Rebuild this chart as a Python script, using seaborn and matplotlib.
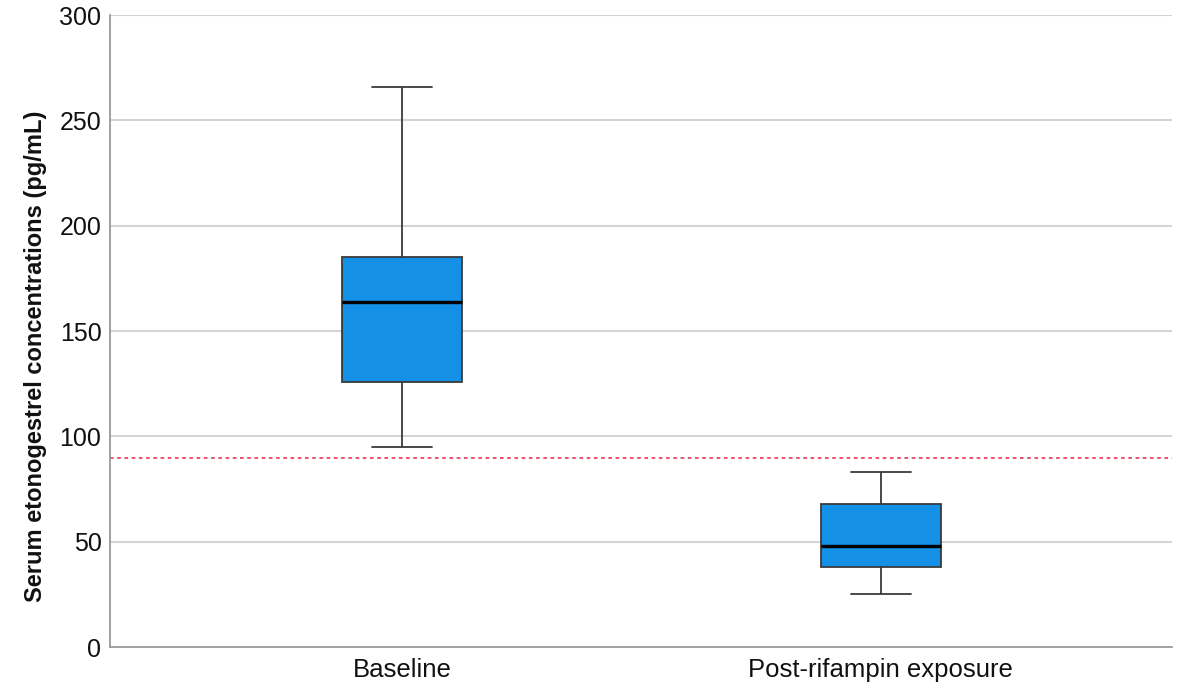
import matplotlib
matplotlib.use("Agg")
import matplotlib.pyplot as plt
import seaborn as sns
import pandas as pd

categories = ["Baseline", "Post-rifampin exposure"]
# five-number summaries: min, Q1, median, Q3, max
baseline_vals = [95, 126, 164, 185, 266]
post_vals = [25, 38, 48, 68, 83]
threshold = 90
yticks = [0, 50, 100, 150, 200, 250, 300]

df = pd.DataFrame({
    "group": [categories[0]] * len(baseline_vals) + [categories[1]] * len(post_vals),
    "value": baseline_vals + post_vals,
})

sns.set_style("white")
plt.rcParams["font.family"] = ["Liberation Sans", "DejaVu Sans"]
plt.rcParams["text.color"] = "#111111"
plt.rcParams["xtick.color"] = "#111111"
plt.rcParams["ytick.color"] = "#111111"
plt.rcParams["axes.labelcolor"] = "#111111"

fig = plt.figure(figsize=(11.81, 6.87), dpi=100)
ax = fig.add_axes([0.093, 0.058, 0.899, 0.920])

for y in yticks[1:]:
    ax.axhline(y, color="#d4d4d4", lw=1.5, zorder=0)

sns.boxplot(data=df, x="group", y="value", order=categories, ax=ax,
            whis=(0, 100), width=0.25, color="#1490E6", saturation=1,
            linecolor="#3a3a3a", linewidth=1.3,
            medianprops=dict(color="black", lw=2.4),
            capprops=dict(color="#3a3a3a", lw=1.3),
            whiskerprops=dict(color="#3a3a3a", lw=1.3),
            boxprops=dict(edgecolor="#3a3a3a", lw=1.3),
            capwidths=0.125, fliersize=0)

ax.axhline(threshold, color="#E8436A", lw=1.3, ls=(0, (2, 2)), zorder=1)

ax.set_xlim(-0.61, 1.607)
ax.set_ylim(0, 300)
ax.set_yticks(yticks)
ax.set_yticklabels([str(t) for t in yticks], fontsize=18)
ax.tick_params(axis="x", labelsize=18.5, length=0, pad=8)
ax.tick_params(axis="y", length=0, pad=6)
ax.set_xlabel("")
ax.set_ylabel("Serum etonogestrel concentrations (pg/mL)", fontsize=17,
              fontweight="bold")
ax.yaxis.set_label_coords(-0.059, 0.46)
for s in ["top", "right"]:
    ax.spines[s].set_visible(False)
for s in ["left", "bottom"]:
    ax.spines[s].set_color("#9a9a9a")
    ax.spines[s].set_linewidth(1.3)

fig.savefig("out.png", dpi=100)
